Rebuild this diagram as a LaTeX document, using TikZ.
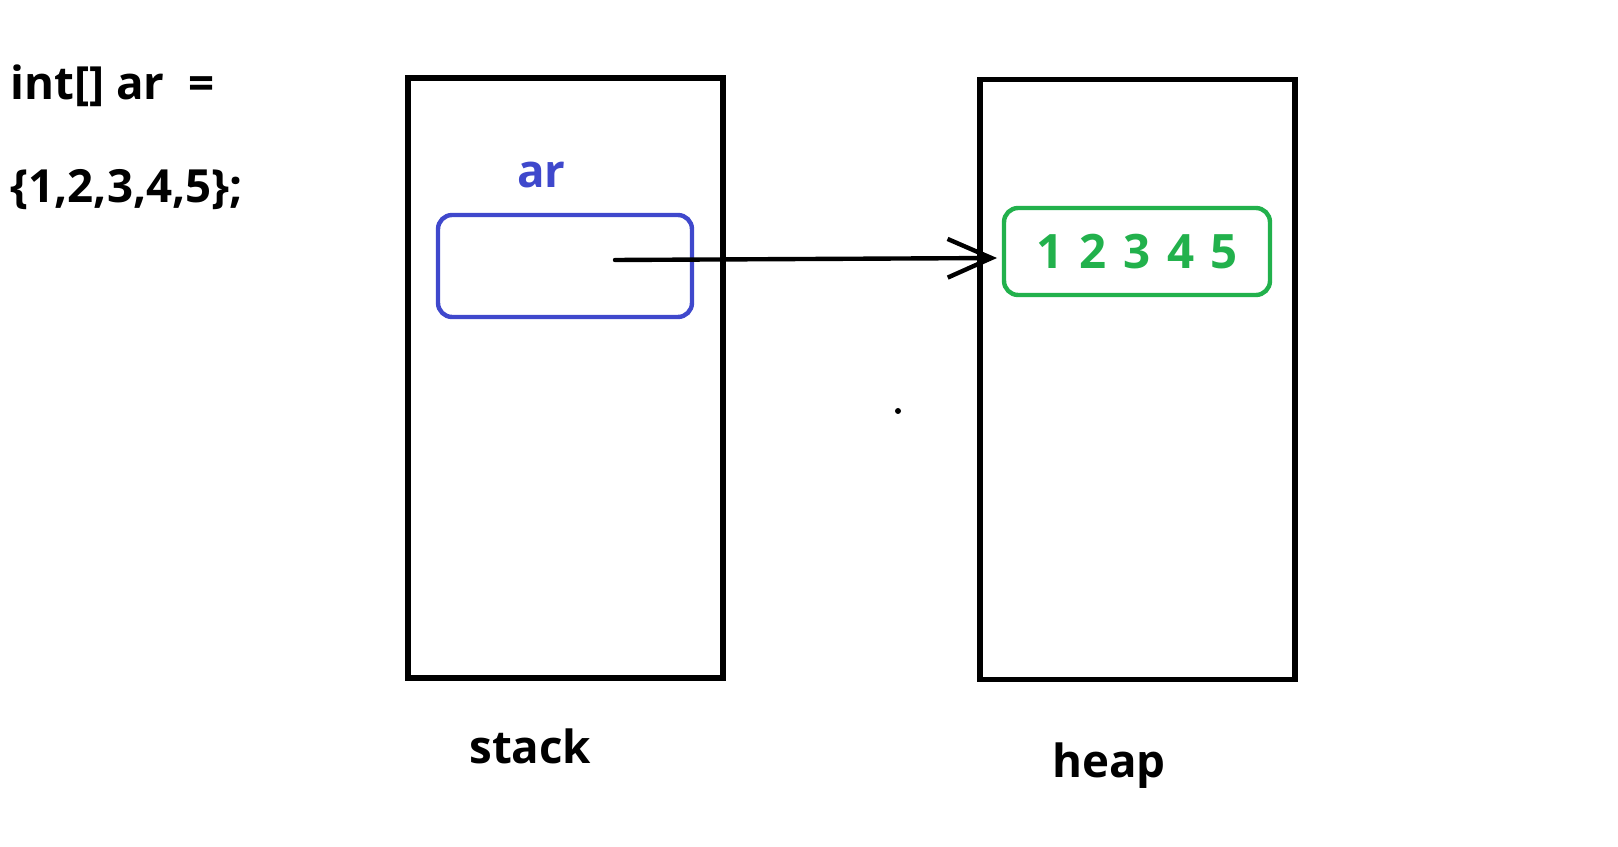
\documentclass[tikz,border=0pt]{standalone}
\usepackage{fontspec}
\setmainfont{Open Sans}
\usetikzlibrary{arrows.meta,positioning}
\definecolor{paintblue}{RGB}{63,72,204}
\definecolor{paintgreen}{RGB}{34,177,76}
\tikzset{>=latex}
\tikzset{
  mem/.style={draw,line width=3pt,minimum width=6.3cm,minimum height=12cm},
  slot/.style={draw,rounded corners=8pt,line width=2.5pt},
  lbl/.style={font=\bfseries\fontsize{26}{30}\selectfont,inner sep=0pt,anchor=base west},
  ref/.style={-{Straight Barb[length=25pt,width=22pt]},line width=2.5pt,line cap=round}
}

\begin{document}
\begin{tikzpicture}[x=0.02cm,y=-0.02cm]
    \useasboundingbox (0,0) rectangle (1618,847);
    % source line
    \node [lbl] (decl) at (10,100) {int[] ar\ \ =};
    \node [lbl] (init) at (10,203) {\{1,2,3,4,5\};};
    % memory areas
    \node [mem] (stack) at (565.5,378) {};
    \node [mem] (heap) at (1137.5,379.5) {};
    \node [lbl] (stacklbl) at (469,763) {stack};
    \node [lbl] (heaplbl) at (1052,777) {heap};
    % reference in the stack
    \node [slot,draw=paintblue,minimum width=5.08cm,minimum height=2.04cm] (ptr) at (565,266) {};
    \node [lbl,text=paintblue] (ptrname) at (517,188) {ar};
    % array in the heap
    \node [slot,draw=paintgreen,text=paintgreen,font=\bfseries\fontsize{27}{30}\selectfont,
      minimum width=5.32cm,minimum height=1.74cm] (arr) at (1137,251.5) {1\hspace{0.35em}2\hspace{0.35em}3\hspace{0.35em}4\hspace{0.35em}5};
    \coordinate (src) at (615,260);
    \coordinate (tip) at (997,258);
    \draw [ref] (src) -- (tip);
    \fill (898,411) circle (3);
  \end{tikzpicture}
\end{document}
